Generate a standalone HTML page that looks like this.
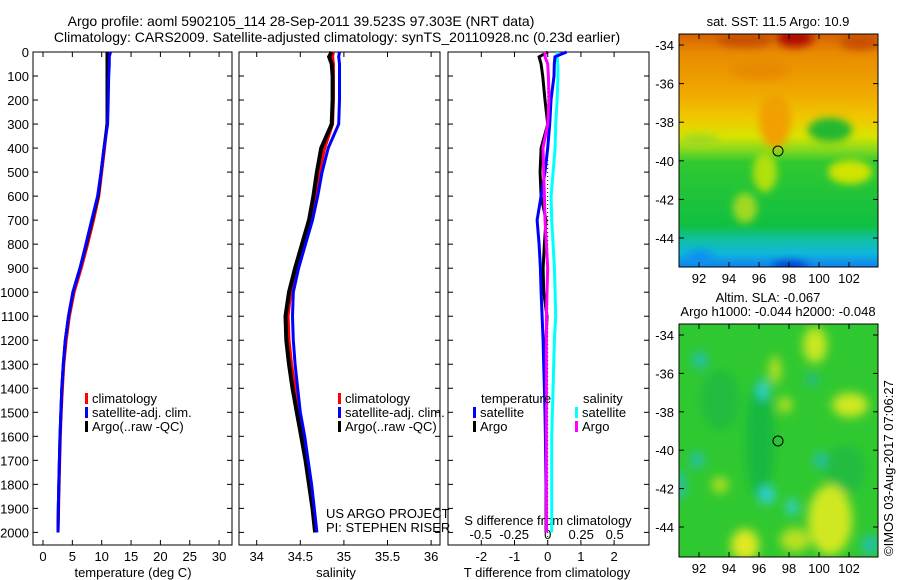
<!DOCTYPE html>
<html><head><meta charset="utf-8"><style>
body{margin:0;background:#fff;}
svg{display:block;font-family:"Liberation Sans",sans-serif;font-size:13px;}
</style></head><body>
<svg id="fig" width="900" height="580" viewBox="0 0 900 580">
<defs>
<filter id="bl" x="-50%" y="-50%" width="200%" height="200%"><feGaussianBlur stdDeviation="5"/></filter>
<filter id="bl2" x="-50%" y="-50%" width="200%" height="200%"><feGaussianBlur stdDeviation="4"/></filter>
<clipPath id="c1"><rect x="679" y="34" width="199" height="233"/></clipPath>
<clipPath id="c2"><rect x="679" y="324" width="199" height="233"/></clipPath>
<linearGradient id="g1" x1="0" y1="34" x2="0" y2="267" gradientUnits="userSpaceOnUse">
<stop offset="0" stop-color="#d46000"/>
<stop offset="0.08" stop-color="#e88a00"/>
<stop offset="0.25" stop-color="#f0a800"/>
<stop offset="0.36" stop-color="#f0c800"/>
<stop offset="0.44" stop-color="#d8e400"/>
<stop offset="0.5" stop-color="#80d820"/>
<stop offset="0.55" stop-color="#30c830"/>
<stop offset="0.82" stop-color="#10c040"/>
<stop offset="0.88" stop-color="#10c0a0"/>
<stop offset="0.94" stop-color="#10b8d8"/>
<stop offset="1" stop-color="#1080f0"/>
</linearGradient>
</defs>
<text x="301" y="26" text-anchor="middle" style="font-size:14px">Argo profile: aoml 5902105_114 28-Sep-2011 39.523S 97.303E (NRT data)</text>
<text x="337" y="42" text-anchor="middle" style="font-size:14px">Climatology: CARS2009. Satellite-adjusted climatology: synTS_20110928.nc (0.23d earlier)</text>

<!-- map 1 -->
<g clip-path="url(#c1)">
<rect x="679" y="34" width="199" height="233" fill="url(#g1)"/>
<g filter="url(#bl2)">
<ellipse cx="795" cy="38" rx="18" ry="9" fill="#b01000"/>
<ellipse cx="745" cy="40" rx="28" ry="7" fill="#c85000"/>
<ellipse cx="860" cy="42" rx="20" ry="8" fill="#c85000"/>
<ellipse cx="760" cy="70" rx="30" ry="10" fill="#e88a00"/>
<ellipse cx="775" cy="120" rx="16" ry="28" fill="#f0a000"/>
<ellipse cx="830" cy="130" rx="22" ry="12" fill="#20b830"/>
<ellipse cx="850" cy="172" rx="22" ry="12" fill="#d0e400"/>
<ellipse cx="765" cy="172" rx="12" ry="20" fill="#b0e010"/>
<ellipse cx="745" cy="208" rx="12" ry="15" fill="#a0d820"/>
<ellipse cx="700" cy="140" rx="20" ry="6" fill="#a0d820"/>
<ellipse cx="790" cy="266" rx="18" ry="5" fill="#0040d0"/>
<ellipse cx="700" cy="258" rx="14" ry="8" fill="#1090f0"/>
</g>
</g>
<rect x="679" y="34" width="199" height="233" fill="none" stroke="#000"/>
<circle cx="778" cy="151" r="5" fill="none" stroke="#000"/>
<text x="778" y="26" text-anchor="middle">sat. SST: 11.5 Argo: 10.9</text>

<!-- map 2 -->
<g clip-path="url(#c2)">
<rect x="679" y="324" width="199" height="233" fill="#30c830"/>
<g filter="url(#bl)">
<ellipse cx="760" cy="440" rx="14" ry="60" fill="#18b840"/>
<ellipse cx="720" cy="400" rx="20" ry="30" fill="#20bc40"/>
<ellipse cx="845" cy="470" rx="20" ry="25" fill="#20bc40"/>
<ellipse cx="815" cy="345" rx="12" ry="18" fill="#c8e820"/>
<ellipse cx="775" cy="370" rx="6" ry="14" fill="#b8e020"/>
<ellipse cx="850" cy="405" rx="18" ry="12" fill="#d0e820"/>
<ellipse cx="785" cy="405" rx="7" ry="8" fill="#b8e020"/>
<ellipse cx="720" cy="485" rx="8" ry="8" fill="#b8e020"/>
<ellipse cx="745" cy="545" rx="14" ry="16" fill="#e0e820"/>
<ellipse cx="830" cy="520" rx="22" ry="35" fill="#d0e820"/>
<ellipse cx="795" cy="540" rx="15" ry="12" fill="#b8e020"/>
<ellipse cx="700" cy="360" rx="7" ry="9" fill="#20c0b0"/>
<ellipse cx="763" cy="390" rx="6" ry="10" fill="#30d0d0"/>
<ellipse cx="812" cy="380" rx="6" ry="6" fill="#20b8a0"/>
<ellipse cx="697" cy="460" rx="7" ry="8" fill="#20c0b0"/>
<ellipse cx="820" cy="460" rx="6" ry="8" fill="#20c0b0"/>
<ellipse cx="767" cy="495" rx="8" ry="9" fill="#30d0d8"/>
<ellipse cx="792" cy="507" rx="6" ry="8" fill="#30d0d0"/>
<ellipse cx="680" cy="485" rx="5" ry="15" fill="#20c0c0"/>
<ellipse cx="870" cy="545" rx="8" ry="10" fill="#20c0b0"/>
</g>
</g>
<rect x="679" y="324" width="199" height="233" fill="none" stroke="#000"/>
<circle cx="778" cy="441" r="5" fill="none" stroke="#000"/>
<text x="768" y="302" text-anchor="middle">Altim. SLA: -0.067</text>
<text x="778" y="316" text-anchor="middle">Argo h1000: -0.044 h2000: -0.048</text>
<text transform="translate(893,556) rotate(-90)">©IMOS 03-Aug-2017 07:06:27</text>
<g id="layer"></g>
</svg>
<script>
const depths=[0,20,50,100,200,300,400,500,600,700,800,900,1000,1100,1200,1300,1400,1500,1600,1700,1800,1900,2000];
const tempArgo=[10.9,10.9,10.9,10.9,10.9,10.9,10.4,9.9,9.4,8.4,7.4,6.3,5.1,4.35,3.8,3.45,3.2,3.05,2.9,2.8,2.7,2.6,2.55];
const tempClim=[11.0,11.0,11.0,11.0,11.0,10.9,10.5,10.0,9.5,8.6,7.6,6.5,5.3,4.5,3.95,3.55,3.3,3.1,2.95,2.85,2.75,2.65,2.55];
const tempSat=[11.5,11.3,11.3,11.2,11.1,11.0,10.4,9.9,9.3,8.3,7.3,6.3,5.1,4.35,3.8,3.45,3.2,3.05,2.9,2.8,2.7,2.6,2.55];
const salArgo=[34.86,34.83,34.86,34.87,34.87,34.86,34.74,34.69,34.65,34.60,34.52,34.44,34.37,34.33,34.34,34.37,34.41,34.46,34.51,34.56,34.60,34.64,34.67];
const salClim=[34.88,34.87,34.88,34.88,34.88,34.87,34.78,34.72,34.67,34.62,34.54,34.46,34.39,34.36,34.37,34.40,34.44,34.48,34.53,34.58,34.62,34.65,34.68];
const salSat=[34.95,34.94,34.95,34.95,34.95,34.94,34.82,34.75,34.70,34.64,34.56,34.48,34.42,34.41,34.42,34.44,34.47,34.50,34.55,34.59,34.63,34.66,34.69];
const dTsat=[0.57,0.22,0.2,0.19,0.1,0.06,0.0,-0.08,-0.2,-0.32,-0.26,-0.22,-0.2,-0.17,-0.14,-0.12,-0.1,-0.08,-0.07,-0.06,-0.05,-0.04,-0.04];
const dTargo=[0.0,-0.26,-0.2,-0.15,-0.08,0.0,-0.2,-0.23,-0.2,-0.05,-0.1,-0.14,-0.12,-0.02,-0.05,-0.06,-0.06,-0.05,-0.05,-0.05,-0.05,-0.05,-0.05];
const dSsat=[0.07,0.07,0.075,0.077,0.07,0.06,0.055,0.04,0.025,0.03,0.04,0.05,0.055,0.06,0.05,0.045,0.04,0.035,0.03,0.03,0.03,0.03,0.03];
const dSargo=[-0.02,-0.02,0.0,0.005,0.01,0.0,-0.035,-0.03,-0.025,-0.02,-0.01,0.0,-0.005,-0.01,-0.01,-0.01,-0.01,-0.01,-0.01,-0.01,-0.01,-0.01,-0.01];
const depthTicks=[0,100,200,300,400,500,600,700,800,900,1000,1100,1200,1300,1400,1500,1600,1700,1800,1900,2000];
const tempTicks=[0,5,10,15,20,25,30];
const salTicks=[34,34.5,35,35.5,36];
const dTTicks=[-2,-1,0,1,2];
const dSTicks=[-0.5,-0.25,0,0.25,0.5];
const latTicks=[-34,-36,-38,-40,-42,-44];
const lonTicks=[92,94,96,98,100,102];

const NS='http://www.w3.org/2000/svg';
const layer=document.getElementById('layer');
function el(tag,attrs,parent){const e=document.createElementNS(NS,tag);for(const k in attrs)e.setAttribute(k,attrs[k]);(parent||layer).appendChild(e);return e;}
const yD=d=>52+d*0.2402;
const xT=t=>43+t*5.87;
const xS=s=>256.7+(s-34)*87.2;
const xdT=v=>547.7+v*33.2;
const xdS=v=>547.7+v*134;
const yLat1=l=>45+(-34-l)*19.3;
const yLat2=l=>335+(-34-l)*19.2;
const xLon=l=>699+(l-92)*15;

function tx(x,y,s,anchor,name){const t=el('text',{x:x,y:y,'text-anchor':anchor||'start'});t.textContent=s;


return t;}

const panels=[{x0:33,x1:232,name:'temperature-panel'},{x0:239,x1:440,name:'salinity-panel'},{x0:448,x1:649,name:'difference-panel'}];
panels.forEach(p=>{
 const r=el('rect',{x:p.x0,y:52,width:p.x1-p.x0,height:493,fill:'none',stroke:'#000'});
 
 
 depthTicks.forEach(d=>{el('line',{x1:p.x0,x2:p.x0+5,y1:yD(d),y2:yD(d),stroke:'#000'});el('line',{x1:p.x1,x2:p.x1-5,y1:yD(d),y2:yD(d),stroke:'#000'});});
});
depthTicks.forEach(d=>tx(29,yD(d)+5,String(d),'end','depth-tick-label'));
tempTicks.forEach(t=>{el('line',{x1:xT(t),x2:xT(t),y1:545,y2:540,stroke:'#000'});el('line',{x1:xT(t),x2:xT(t),y1:52,y2:57,stroke:'#000'});tx(xT(t),561,String(t),'middle','temp-tick-label');});
salTicks.forEach(t=>{el('line',{x1:xS(t),x2:xS(t),y1:545,y2:540,stroke:'#000'});el('line',{x1:xS(t),x2:xS(t),y1:52,y2:57,stroke:'#000'});tx(xS(t),561,String(t),'middle','salinity-tick-label');});
dTTicks.forEach(t=>{el('line',{x1:xdT(t),x2:xdT(t),y1:545,y2:540,stroke:'#000'});el('line',{x1:xdT(t),x2:xdT(t),y1:52,y2:57,stroke:'#000'});tx(xdT(t),561,String(t),'middle','dt-tick-label');});
dSTicks.forEach(t=>tx(xdS(t),539,String(t),'middle','ds-tick-label'));
tx(133,577,'temperature (deg C)','middle','temperature-axis-title');
tx(336,577,'salinity','middle','salinity-axis-title');
tx(547,577,'T difference from climatology','middle','t-diff-axis-title');
tx(548,525,'S difference from climatology','middle','s-diff-axis-title');
tx(326,518,'US ARGO PROJECT','start','project-label');
tx(326,532,'PI: STEPHEN RISER','start','pi-label');
el('line',{x1:547.7,x2:547.7,y1:52,y2:545,stroke:'#000','stroke-dasharray':'1,3'});

function series(vals,xf,color,w,name){
 const pts=depths.map((d,i)=>xf(vals[i]).toFixed(1)+','+yD(d).toFixed(1)).join(' ');
 const p=el('polyline',{points:pts,fill:'none',stroke:color,'stroke-width':w});
 
 
}
series(tempClim,xT,'#ff0000',3,'temp-climatology-line');
series(tempArgo,xT,'#000',3,'temp-argo-line');
series(tempSat,xT,'#0000ff',3,'temp-satellite-line');
series(salClim,xS,'#ff0000',3,'sal-climatology-line');
series(salArgo,xS,'#000',4,'sal-argo-line');
series(salSat,xS,'#0000ff',3,'sal-satellite-line');
series(dSsat,xdS,'#00ffff',3,'ds-satellite-line');
series(dTargo,xdT,'#000',3,'dt-argo-line');
series(dTsat,xdT,'#0000ff',3,'dt-satellite-line');
series(dSargo,xdS,'#ff00ff',3,'ds-argo-line');

function legend(x,y,items,prefix){
 items.forEach((it,i)=>{
  el('rect',{x:x,y:y+i*14-10,width:3,height:11,fill:it[1]});
  tx(x+7,y+i*14,it[0],'start',prefix+'-legend-entry');
 });
}
legend(85,403,[['climatology','#ff0000'],['satellite-adj. clim.','#0000ff'],['Argo(..raw -QC)','#000']],'temp');
legend(338,403,[['climatology','#ff0000'],['satellite-adj. clim.','#0000ff'],['Argo(..raw -QC)','#000']],'sal');
tx(481,403,'temperature','start','diff-legend-temperature-header');
tx(583,403,'salinity','start','diff-legend-salinity-header');
legend(473,417,[['satellite','#0000ff'],['Argo','#000']],'dt');
legend(575,417,[['satellite','#00ffff'],['Argo','#ff00ff']],'ds');

[[34,267,yLat1,'sst'],[324,557,yLat2,'sla']].forEach(m=>{
 latTicks.forEach(l=>{const y=m[2](l);el('line',{x1:679,x2:684,y1:y,y2:y,stroke:'#000'});el('line',{x1:878,x2:873,y1:y,y2:y,stroke:'#000'});tx(674,y+5,String(l),'end',m[3]+'-lat-tick-label');});
 lonTicks.forEach(l=>{const x=xLon(l);el('line',{x1:x,x2:x,y1:m[1],y2:m[1]-5,stroke:'#000'});el('line',{x1:x,x2:x,y1:m[0],y2:m[0]+5,stroke:'#000'});tx(x,m[1]+16,String(l),'middle',m[3]+'-lon-tick-label');});
});
</script>
</body></html>
